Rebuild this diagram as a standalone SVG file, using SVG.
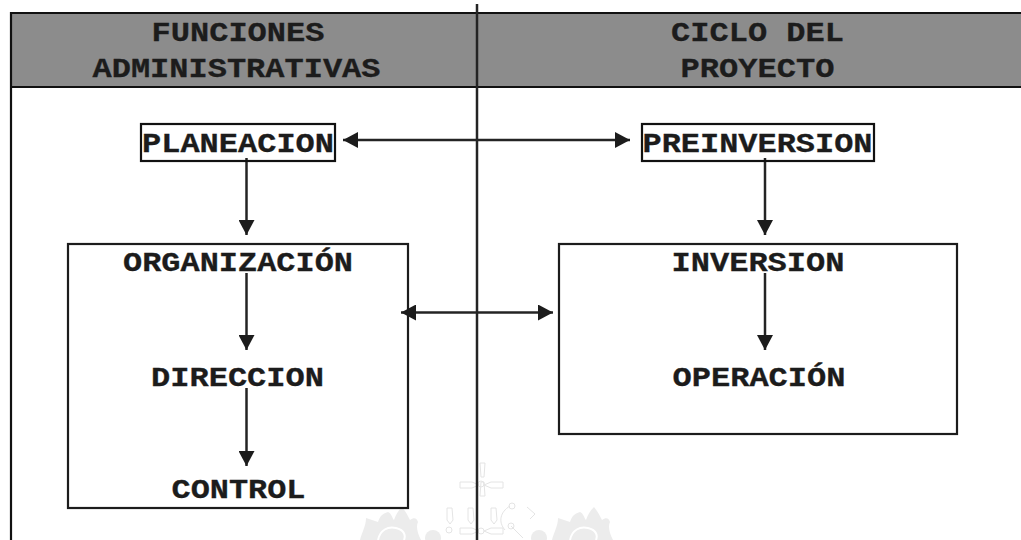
<svg xmlns="http://www.w3.org/2000/svg" width="1021" height="540" viewBox="0 0 1021 540">
<style>
.t{font-family:"Liberation Mono","Courier New",monospace;font-weight:bold;font-size:27px;fill:#1c1c1c;text-anchor:middle;stroke:#1c1c1c;stroke-width:.3}
.b{fill:#fff;stroke:#1c1c1c;stroke-width:2.200}
.n{fill:none;stroke:#111;stroke-width:2.200}
.f{stroke:#111;stroke-width:2.200;fill:none}
.c{stroke:#242424;stroke-width:2.500;fill:none}
.w{fill:#ececec}
.x{fill:none;stroke:#fff;stroke-width:2}
.o{fill:none;stroke:#e4e4e4;stroke-width:1}
</style>
<defs>
<marker id="a" markerUnits="userSpaceOnUse" markerWidth="16" markerHeight="16" refX="15" refY="8" orient="auto-start-reverse" viewBox="0 0 16 16"><path d="M0 0L15 8L0 16Z" fill="#1c1c1c"/></marker>
<g id="flame"><path class="w" d="M360 540C362 532 366 526 366 518L378 522C380 516 382 514 388 512C392 514 392 518 394 520C396 514 399 510 402 507C406 512 408 516 410 520C414 517 417 518 418 522C416 526 417 532 421 540Z"/><path class="x" d="M378 540C380 530 388 526 396 528C404 530 406 535 404 540"/></g>
</defs>
<rect width="1021" height="540" fill="#fff"/>
<g id="watermark">
<use href="#flame"/><use href="#flame" x="192"/>
<circle class="w" cx="433" cy="538" r="8"/><circle class="w" cx="539" cy="538" r="8"/>
<path class="o" d="M480 463h5l-1 14h-3zM480 496h5l-1 -14h-3zM460 482h12l7 3l-7 3h-12zM503 482h-12l-7 3l7 3h12zM447 508h5l1 12l-3 4l-3 -4zM468 508h5l1 12l-3 4l-3 -4zM491 508h5l1 12l-3 4l-3 -4zM460 528h12l7 3l-7 3h-12zM503 528h-12l-7 3l7 3h12z"/>
<path class="o" d="M510 506C500 512 498 522 505 530M527 507l8 7l-5 5M511 526l12 12"/>
<circle class="o" cx="481" cy="484" r="3"/><circle class="o" cx="449" cy="530" r="3"/><circle class="o" cx="481" cy="531" r="3"/><circle class="o" cx="512" cy="506" r="3"/><circle class="o" cx="511" cy="526" r="3"/>
</g>
<rect id="header-band" x="11" y="13" width="1012" height="74" fill="#8c8c8c"/>
<g id="frame">
<path class="f" d="M1021 13H11V540"/><path class="f" d="M11 87H1021"/>
</g>
<g id="box-left-back"><rect class="b" x="68" y="244" width="340" height="264"/></g>
<g id="box-right-back"><rect class="b" x="559" y="244" width="398" height="190"/></g>
<g id="connectors">
<path class="c" d="M477 4V540"/>
<path class="c" d="M343 140H630" marker-start="url(#a)" marker-end="url(#a)"/>
<path class="c" d="M246.500 158V235" marker-end="url(#a)"/>
<path class="c" d="M765 158V235" marker-end="url(#a)"/>
<path class="c" d="M246.500 273V350" marker-end="url(#a)"/>
<path class="c" d="M246.500 388V466" marker-end="url(#a)"/>
<path class="c" d="M765 273V350" marker-end="url(#a)"/>
<path class="c" d="M401 312.500H553" marker-start="url(#a)" marker-end="url(#a)"/>
</g>
<g id="header-left"><text class="t" x="238" y="41" textLength="173" lengthAdjust="spacingAndGlyphs">FUNCIONES</text><text class="t" x="236.500" y="76.500" textLength="288" lengthAdjust="spacingAndGlyphs">ADMINISTRATIVAS</text></g>
<g id="header-right"><text class="t" x="757.500" y="41" textLength="173" lengthAdjust="spacingAndGlyphs">CICLO DEL</text><text class="t" x="757.500" y="76.500" textLength="154" lengthAdjust="spacingAndGlyphs">PROYECTO</text></g>
<g id="planeacion"><rect class="n" x="141" y="124" width="194" height="37"/><text class="t" x="238" y="152" textLength="192" lengthAdjust="spacingAndGlyphs">PLANEACION</text></g>
<g id="preinversion"><rect class="n" x="642" y="124" width="232" height="37"/><text class="t" x="757.500" y="152" textLength="230" lengthAdjust="spacingAndGlyphs">PREINVERSION</text></g>
<g id="organizacion"><text class="t" x="238" y="271" textLength="230" lengthAdjust="spacingAndGlyphs">ORGANIZACIÓN</text></g>
<g id="direccion"><text class="t" x="237.500" y="386" textLength="173" lengthAdjust="spacingAndGlyphs">DIRECCION</text></g>
<g id="control"><text class="t" x="238.500" y="498" textLength="134" lengthAdjust="spacingAndGlyphs">CONTROL</text></g>
<g id="inversion"><text class="t" x="758" y="271" textLength="173" lengthAdjust="spacingAndGlyphs">INVERSION</text></g>
<g id="operacion"><text class="t" x="759" y="386" textLength="173" lengthAdjust="spacingAndGlyphs">OPERACIÓN</text></g>
</svg>
